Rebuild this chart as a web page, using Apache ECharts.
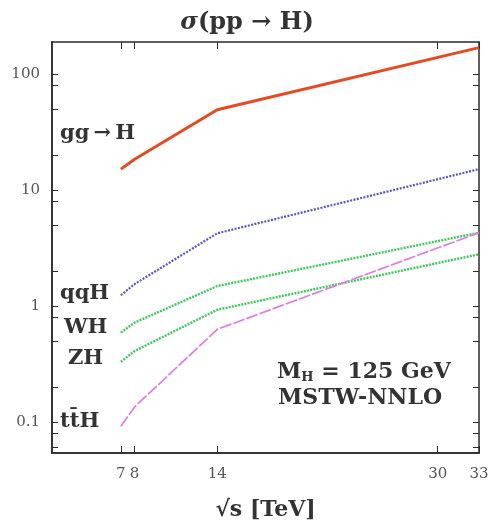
<!DOCTYPE html>
<html>
<head>
<meta charset="utf-8">
<script src="https://cdn.jsdelivr.net/npm/echarts@6/dist/echarts.min.js"></script>
<style>html,body{margin:0;padding:0;background:#fff;}#c{width:494px;height:527px;}</style>
</head>
<body>
<div id="c"></div>
<script>
// collision energies (TeV)
const energies = [7, 8, 14, 33];
// cross sections (pb)
const ggH = [15.2, 18.5, 49.5, 170];
const qqH = [1.24, 1.55, 4.25, 15.2];
const WH  = [0.59, 0.72, 1.49, 4.3];
const ZH  = [0.33, 0.41, 0.93, 2.8];
const ttH = [0.092, 0.135, 0.63, 4.3];
// tick labels
const xTicks = [7, 8, 14, 30, 33];
const yLabels = [0.1, 1, 10, 100];
const yTicks = [0.06, 0.08, 0.1, 0.2, 0.5, 0.8, 1, 2, 5, 8, 10, 20, 50, 80, 100];

const serif = '"DejaVu Serif", "Liberation Serif", serif';
const pair = (ys) => energies.map((x, i) => [x, ys[i]]);
const ls = () => ({ color: '#2a2a2a', width: 1.5 });

// tick-only axes (frame + inward ticks on all four sides)
const xTickAxis = (pos) => ({
  type: 'value', min: 2, max: 33, position: pos, offset: 0,
  axisLine: { show: true, lineStyle: ls() },
  splitLine: { show: false },
  axisTick: { show: true, inside: true, length: 7, customValues: xTicks },
  axisLabel: { show: false }
});
const yTickAxis = (pos) => ({
  type: 'log', logBase: 10, min: 0.054, max: 190, position: pos, offset: 0,
  axisLine: { show: true, lineStyle: ls() },
  splitLine: { show: false },
  axisTick: { show: true, inside: true, length: 6, customValues: yTicks },
  axisLabel: { show: false }
});

const chart = echarts.init(document.getElementById('c'));
chart.setOption({
  backgroundColor: '#fff',
  animation: false,
  title: {
    text: '{i|σ}{b|(pp → H)}',
    left: 'center',
    top: 6,
    textStyle: {
      rich: {
        i: { fontFamily: serif, fontStyle: 'italic', fontSize: 24, color: '#333' },
        b: { fontFamily: serif, fontWeight: 'bold', fontSize: 24, color: '#333' }
      }
    }
  },
  grid: { left: 52, right: 15, top: 42, bottom: 74 },
  xAxis: [{
    type: 'value', min: 2, max: 33, position: 'bottom',
    axisLine: { show: true, lineStyle: ls() },
    splitLine: { show: false },
    axisTick: { show: false },
    axisLabel: { customValues: xTicks, fontFamily: serif, fontSize: 15, color: '#555', margin: 14 },
    name: '√s [TeV]', nameLocation: 'middle', nameGap: 46,
    nameTextStyle: { fontFamily: serif, fontWeight: 'bold', fontSize: 22, color: '#333' }
  }, xTickAxis('top'), xTickAxis('bottom')],
  yAxis: [{
    type: 'log', logBase: 10, min: 0.054, max: 190, position: 'left',
    axisLine: { show: true, lineStyle: ls() },
    splitLine: { show: false },
    axisTick: { show: false },
    axisLabel: { customValues: yLabels, fontFamily: serif, fontSize: 15, color: '#555', margin: 12,
      formatter: v => String(v) }
  }, yTickAxis('right'), yTickAxis('left')],
  series: [
    { name: 'gg→H', type: 'line', data: pair(ggH), symbol: 'none',
      lineStyle: { color: '#e64a22', width: 3 } },
    { name: 'qqH', type: 'line', data: pair(qqH), symbol: 'none',
      lineStyle: { color: '#5654cc', width: 2.2, type: [2, 1.4] } },
    { name: 'WH', type: 'line', data: pair(WH), symbol: 'none',
      lineStyle: { color: '#3ec85c', width: 2.4, type: [2, 1.2] } },
    { name: 'ZH', type: 'line', data: pair(ZH), symbol: 'none',
      lineStyle: { color: '#3ec85c', width: 2.4, type: [2, 1.2] } },
    { name: 'ttH', type: 'line', data: pair(ttH), symbol: 'none',
      lineStyle: { color: '#e07ce0', width: 1.7, type: [12, 2] } }
  ],
  graphic: [
    { type: 'text', left: 60, top: 123, style: { text: 'gg\u2009→\u2009H', font: 'bold 21px ' + serif, fill: '#333' } },
    { type: 'text', left: 60, top: 283, style: { text: 'qqH', font: 'bold 21px ' + serif, fill: '#333' } },
    { type: 'text', left: 64, top: 317, style: { text: 'WH', font: 'bold 21px ' + serif, fill: '#333' } },
    { type: 'text', left: 68, top: 348, style: { text: 'ZH', font: 'bold 21px ' + serif, fill: '#333' } },
    { type: 'text', left: 60, top: 411, style: { text: 'tt̄H', font: 'bold 21px ' + serif, fill: '#333' } },
    { type: 'text', left: 277, top: 361, style: {
      text: '{b|M}{s|H}{b| = 125 GeV}', fill: '#333',
      rich: {
        b: { font: 'bold 22px ' + serif, fill: '#333' },
        s: { font: 'bold 13px ' + serif, fill: '#333', verticalAlign: 'bottom', padding: [11, 0, 0, 0] }
      } } },
    { type: 'text', left: 278, top: 387, style: { text: 'MSTW-NNLO', font: 'bold 22px ' + serif, fill: '#333' } }
  ]
});
</script>
</body>
</html>
